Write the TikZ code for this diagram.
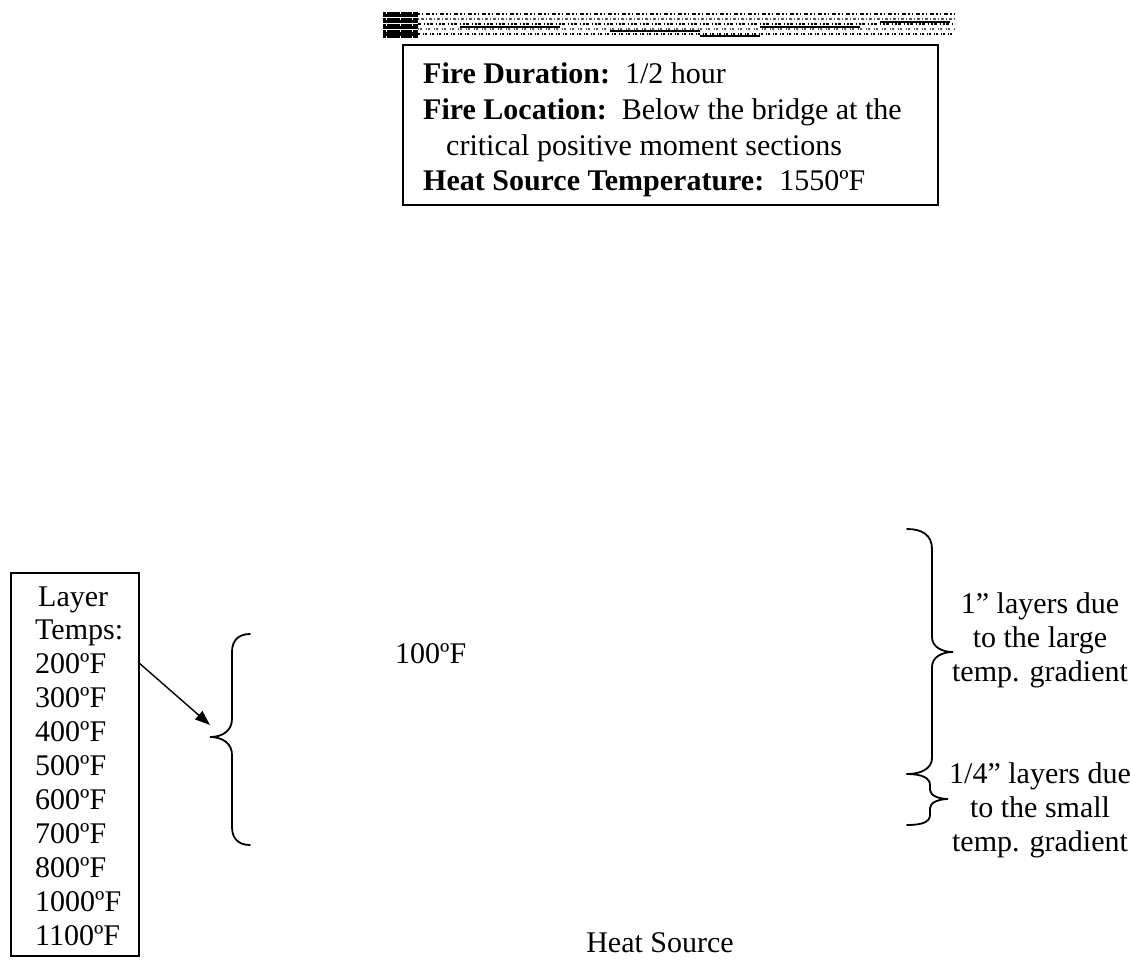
\documentclass[tikz,border=0pt]{standalone}
\usepackage{fontspec}
\setmainfont{Liberation Serif}
\usetikzlibrary{arrows.meta}
\begin{document}
\begin{tikzpicture}[x=1pt,y=-1pt,
  txt/.style={font=\fontsize{30}{34}\selectfont, inner sep=0pt},
  framebox/.style={draw, line width=1.7pt, inner sep=0pt},
  bracepath/.style={line width=1.8pt, line cap=round},
  noise/.style={line width=2pt},
  pointer/.style={line width=1.4pt, -{Triangle[length=15pt,width=11pt]}}]
\useasboundingbox (0,0) rectangle (1131,968);

% --- scanned noise strip at the top ---
\fill[black] (383,12) rectangle (418,38);
\draw[white, line width=1pt] (383,18) -- (418,18) (383,24) -- (418,24) (383,30) -- (418,30);
\draw[white, line width=1pt, dash pattern=on 2pt off 4pt] (386,12) -- (386,38) (400,12) -- (400,38) (412,12) -- (412,38);
\draw[noise, dash pattern=on 2pt off 2pt on 1pt off 3pt on 4pt off 2pt] (418,14) -- (955,14);
\draw[noise, gray!70!black, dash pattern=on 1pt off 2pt on 3pt off 2pt] (418,19) -- (955,19);
\draw[noise, dash pattern=on 3pt off 3pt on 1pt off 2pt on 2pt off 1pt] (418,24) -- (955,24);
\draw[noise, gray!70!black, dash pattern=on 1pt off 1pt on 2pt off 4pt] (418,29) -- (955,29);
\draw[noise, dash pattern=on 2pt off 3pt on 1pt off 1pt] (418,34) -- (955,34);
\draw[line width=1.5pt] (460,27) -- (560,27) (610,31) -- (700,31) (760,27) -- (860,27) (880,22) -- (950,22) (700,36) -- (760,36);

% --- info box ---
\node[framebox, anchor=north west, minimum width=535pt, minimum height=160pt] (info) at (402,44) {};
\node[txt, anchor=base west] (dur) at (423,84) {\textbf{Fire Duration:}\ \ 1/2 hour};
\node[txt, anchor=base west] (loc) at (423,120) {\textbf{Fire Location:}\ \ Below the bridge at the};
\node[txt, anchor=base west] (loc2) at (446,156) {critical positive moment sections};
\node[txt, anchor=base west] (src) at (423,191) {\textbf{Heat Source Temperature:}\ \ 1550ºF};

% --- layer temps box ---
\node[framebox, anchor=north west, minimum width=128pt, minimum height=383pt] (layers) at (10,572) {};
\node[txt, anchor=base west] (lay0) at (38,606) {Layer};
\foreach \t [count=\i] in {Temps:,200ºF,300ºF,400ºF,500ºF,600ºF,700ºF,800ºF,1000ºF,1100ºF}
  \node[txt, anchor=base west] (lay\i) at (35,606+33.9*\i) {\t};

% --- arrow and left brace ---
\coordinate (arrS) at (138,662);
\coordinate (arrE) at (210,725);
\draw[pointer] (arrS) -- (arrE);
\draw[bracepath] (250,634) .. controls (239,634) and (232,640) .. (232,652) -- (232,719)
  .. controls (232,731) and (222,737) .. (210,737)
  .. controls (222,737) and (232,743) .. (232,755) -- (232,827)
  .. controls (232,839) and (239,845) .. (250,845);

% --- right braces ---
\draw[bracepath] (907,529) .. controls (922,529) and (932,535) .. (932,549) -- (932,637)
  .. controls (932,647) and (942,652) .. (953,652)
  .. controls (942,652) and (932,657) .. (932,667) -- (932,758)
  .. controls (932,768) and (922,774) .. (907,774);
\draw[bracepath] (907,774) .. controls (922,774) and (930,778) .. (930,785) -- (930,790)
  .. controls (930,796) and (940,799) .. (948,799)
  .. controls (940,799) and (930,802) .. (930,808) -- (930,815)
  .. controls (930,822) and (922,825) .. (907,825);

% --- labels ---
\node[txt, anchor=base] (g1a) at (1040,613) {1” layers due};
\node[txt, anchor=base] (g1b) at (1040,647) {to the large};
\node[txt, anchor=base] (g1c) at (1040,681) {temp. gradient};
\node[txt, anchor=base] (g2a) at (1040,783) {1/4” layers due};
\node[txt, anchor=base] (g2b) at (1040,817) {to the small};
\node[txt, anchor=base] (g2c) at (1040,851) {temp. gradient};

\node[txt, anchor=base west] (t100) at (395,663) {100ºF};
\node[txt, anchor=base] (heat) at (660,952) {Heat Source};
\end{tikzpicture}
\end{document}
